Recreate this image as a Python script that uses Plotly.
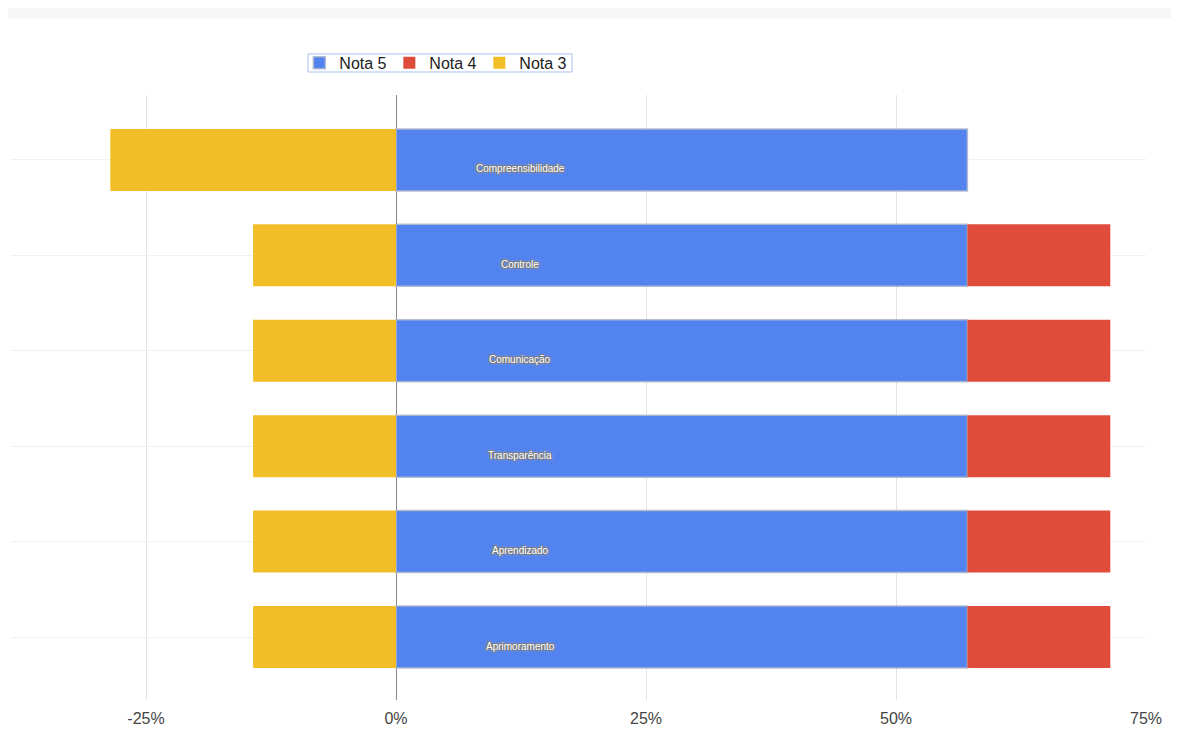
import plotly.graph_objects as go

categorias = ["Compreensibilidade", "Controle", "Comunicação", "Transparência", "Aprendizado", "Aprimoramento"]
nota5 = [57.14, 57.14, 57.14, 57.14, 57.14, 57.14]
nota4 = [0, 14.29, 14.29, 14.29, 14.29, 14.29]
nota3 = [-28.57, -14.29, -14.29, -14.29, -14.29, -14.29]
tick_vals = [-25, 0, 25, 50, 75]
tick_text = ["-25%", "0%", "25%", "50%", "75%"]

LABEL_X = 12.4

fig = go.Figure()
fig.add_trace(go.Bar(y=categorias, x=nota5, name="Nota 5", orientation="h",
                     marker=dict(color="#5383ee", line=dict(color="rgba(175,185,205,0.9)", width=1.5)),
                     width=0.65))
fig.add_trace(go.Bar(y=categorias, x=nota4, name="Nota 4", orientation="h",
                     marker=dict(color="#e04c3c", line=dict(width=0)), width=0.65))
fig.add_trace(go.Bar(y=categorias, x=nota3, name="Nota 3", orientation="h",
                     marker=dict(color="#f2be28", line=dict(width=0)), width=0.65))

shadow = "1px 1px 0px #7a7a7a, -1px -1px 0px #7a7a7a, 1px -1px 0px #7a7a7a, -1px 1px 0px #7a7a7a, 0px 0px 3px #dddddd"
for c in categorias:
    fig.add_annotation(x=LABEL_X, y=c, text=c, showarrow=False, yshift=-9,
                       font=dict(family="Liberation Sans, Arial", size=10, color="white", shadow=shadow))

fig.add_shape(type="rect", xref="paper", yref="paper", x0=-0.0097, x1=1.0256, y0=1.127, y1=1.149,
              fillcolor="#f6f6f6", line=dict(width=0), layer="below")
# legend frame
fig.add_shape(type="rect", xref="paper", yref="paper", x0=0.2617, x1=0.4943, y0=1.038, y1=1.0678,
              fillcolor="rgba(0,0,0,0)", line=dict(color="#a9c1f2", width=1))

fig.update_layout(
    width=1171, height=747,
    barmode="relative",
    plot_bgcolor="white", paper_bgcolor="white",
    margin=dict(l=3, r=33, t=87, b=55),
    font=dict(family="Liberation Sans, Arial", size=16, color="#444"),
    showlegend=True,
    legend=dict(orientation="h", x=0.373, y=1.053, xanchor="center", yanchor="middle",
                borderwidth=0, bgcolor="rgba(0,0,0,0)",
                entrywidth=45, entrywidthmode="pixels", itemwidth=30,
                font=dict(size=16, color="#222"), traceorder="normal"),
    xaxis=dict(range=[-38.5, 75], tickvals=tick_vals, ticktext=tick_text,
               showgrid=True, gridcolor="#e3e3e3", gridwidth=1,
               zeroline=True, zerolinecolor="#888", zerolinewidth=1,
               ticks="outside", ticklen=4, tickcolor="rgba(0,0,0,0)",
               showline=False, fixedrange=True),
    yaxis=dict(categoryorder="array", categoryarray=categorias,
               range=[5.66, -0.68], showticklabels=False,
               showgrid=True, gridcolor="#f1f1f1", zeroline=False, showline=False),
)

fig.write_html("out.html")
